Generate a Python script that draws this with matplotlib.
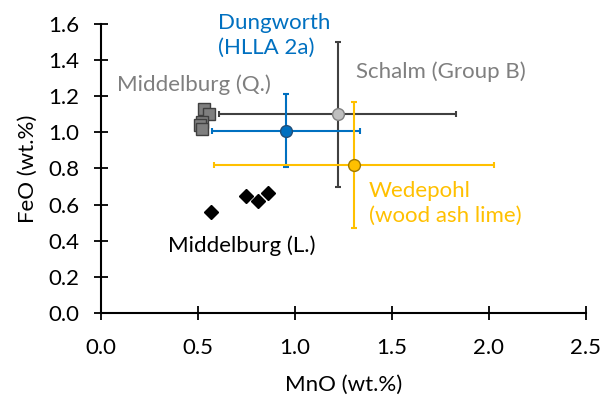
import matplotlib
matplotlib.use("Agg")
import matplotlib.pyplot as plt

plt.rcParams['font.family'] = ['Lato', 'DejaVu Sans']

# Middelburg (L.) samples
mid_l_mno = [0.57, 0.75, 0.81, 0.86]
mid_l_feo = [0.56, 0.645, 0.62, 0.665]

# Middelburg (Q.) samples
mid_q_mno = [0.53, 0.56, 0.52, 0.51, 0.52]
mid_q_feo = [1.13, 1.10, 1.06, 1.04, 1.02]

# Reference compositions: mean with standard deviation
schalm = dict(mno=1.22, feo=1.10, mno_sd=0.61, feo_sd=0.40)
dungworth = dict(mno=0.955, feo=1.01, mno_sd=0.38, feo_sd=0.20)
wedepohl = dict(mno=1.305, feo=0.82, mno_sd=0.72, feo_sd=0.35)

x_ticks = [0.0, 0.5, 1.0, 1.5, 2.0, 2.5]
y_ticks = [0.0, 0.2, 0.4, 0.6, 0.8, 1.0, 1.2, 1.4, 1.6]

BLUE = '#0070C0'
YELLOW = '#FFC000'
GREY_TXT = '#7F7F7F'
DARK = '#404040'

fig = plt.figure(figsize=(6.12, 3.97), dpi=100)
ax = fig.add_axes([0.1645, 0.2116, 0.793, 0.728])

def ref_point(d, color, face, edge):
    ax.errorbar(d['mno'], d['feo'], xerr=d['mno_sd'], yerr=d['feo_sd'],
                fmt='none', ecolor=color, elinewidth=1.5, capsize=2.5,
                capthick=1.5, zorder=2)
    ax.plot(d['mno'], d['feo'], 'o', ms=8.5, mfc=face, mec=edge, mew=1,
            zorder=4)

ref_point(schalm, DARK, '#BFBFBF', '#7F7F7F')
ref_point(dungworth, BLUE, BLUE, '#1F4E79')
ref_point(wedepohl, YELLOW, YELLOW, '#A07800')

ax.plot(mid_q_mno, mid_q_feo, 's', ms=9, mfc='#7F7F7F', mec='#404040',
        mew=1, zorder=5)
ax.plot(mid_l_mno, mid_l_feo, 'D', ms=7, mfc='black', mec='black', zorder=5)

fs = 16
ax.text(0.084, 1.262, 'Middelburg (Q.)', color=GREY_TXT, fontsize=fs,
        ha='left', va='center')
ax.text(1.317, 1.334, 'Schalm (Group B)', color=GREY_TXT, fontsize=fs,
        ha='left', va='center')
ax.text(0.606, 1.535, 'Dungworth\n(HLLA 2a)', color=BLUE, fontsize=fs,
        ha='left', va='center', linespacing=1.32, clip_on=False)
ax.text(1.383, 0.606, 'Wedepohl\n(wood ash lime)', color=YELLOW, fontsize=fs,
        ha='left', va='center', linespacing=1.32)
ax.text(0.347, 0.37, 'Middelburg (L.)', color='black', fontsize=fs,
        ha='left', va='center')

ax.set_xlim(0, 2.5)
ax.set_ylim(0, 1.6)
ax.set_xticks(x_ticks)
ax.set_yticks(y_ticks)
ax.set_xticklabels([f'{v:.1f}' for v in x_ticks])
ax.set_yticklabels([f'{v:.1f}' for v in y_ticks])
ax.tick_params(direction='inout', length=10.5, width=1.3, labelsize=fs,
               colors='black')
ax.tick_params(axis='x', pad=13)
ax.tick_params(axis='y', pad=10)
for side in ('top', 'right'):
    ax.spines[side].set_visible(False)
for side in ('left', 'bottom'):
    ax.spines[side].set_linewidth(1.5)
ax.set_xlabel('MnO (wt.%)', fontsize=fs)
ax.set_ylabel('FeO (wt.%)', fontsize=fs)
ax.xaxis.set_label_coords(0.5, -0.215)
ax.yaxis.set_label_coords(-0.13, 0.5)

fig.savefig('out.png', dpi=100)
